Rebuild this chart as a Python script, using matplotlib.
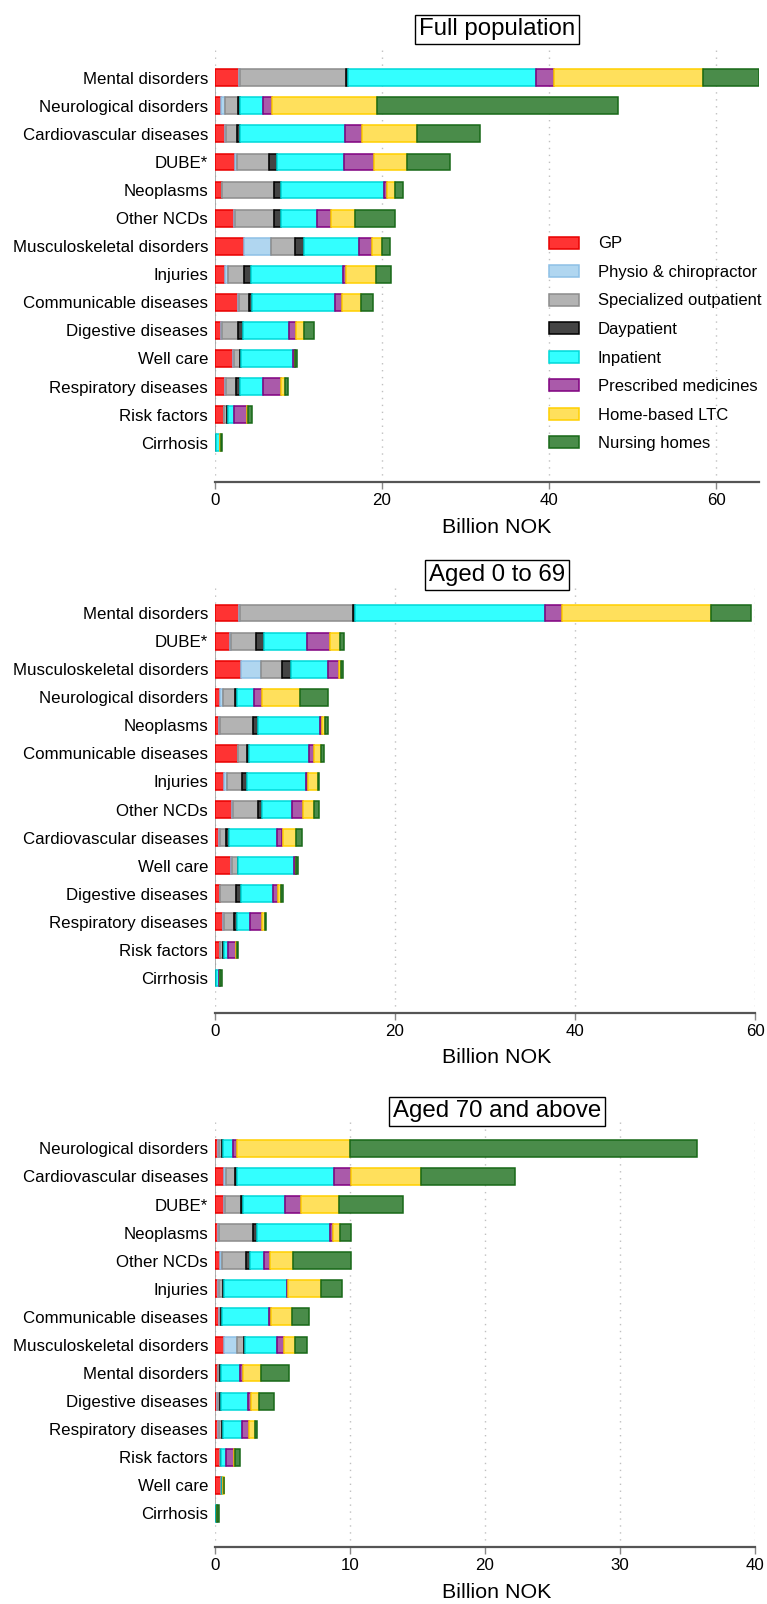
import matplotlib
matplotlib.use("Agg")
import matplotlib.pyplot as plt
import numpy as np

plt.rcParams['font.family'] = ['Liberation Sans', 'DejaVu Sans']

# ---- data (billion NOK) ----
services = ["GP", "Physio & chiropractor", "Specialized outpatient", "Daypatient",
            "Inpatient", "Prescribed medicines", "Home-based LTC", "Nursing homes"]

full_categories = ["Mental disorders", "Neurological disorders", "Cardiovascular diseases",
                   "DUBE*", "Neoplasms", "Other NCDs", "Musculoskeletal disorders",
                   "Injuries", "Communicable diseases", "Digestive diseases", "Well care",
                   "Respiratory diseases", "Risk factors", "Cirrhosis"]
full_values = [
    [2.9, 0.1, 12.7, 0.2, 22.6, 2.1, 17.9, 6.6],
    [0.75, 0.4, 1.65, 0.2, 2.7, 1.15, 12.5, 28.9],
    [1.15, 0.15, 1.3, 0.45, 12.5, 2.0, 6.6, 7.6],
    [2.45, 0.15, 3.9, 0.95, 7.95, 3.7, 3.85, 5.15],
    [0.8, 0.05, 6.25, 0.75, 12.4, 0.3, 1.0, 1.0],
    [2.3, 0.15, 4.6, 0.8, 4.4, 1.6, 2.95, 4.8],
    [3.5, 3.25, 2.85, 1.1, 6.5, 1.65, 1.1, 1.05],
    [1.25, 0.35, 1.9, 0.85, 10.95, 0.35, 3.65, 1.75],
    [2.8, 0.1, 1.2, 0.3, 10.0, 0.8, 2.3, 1.45],
    [0.7, 0.15, 1.85, 0.6, 5.6, 0.8, 1.0, 1.2],
    [2.2, 0.05, 0.75, 0.1, 6.25, 0.2, 0.05, 0.2],
    [1.15, 0.15, 1.25, 0.45, 2.75, 2.1, 0.55, 0.3],
    [1.05, 0.05, 0.3, 0.2, 0.7, 1.55, 0.15, 0.4],
    [0.05, 0.0, 0.05, 0.05, 0.45, 0.05, 0.05, 0.15],
]

young_categories = ["Mental disorders", "DUBE*", "Musculoskeletal disorders",
                    "Neurological disorders", "Neoplasms", "Communicable diseases",
                    "Injuries", "Other NCDs", "Cardiovascular diseases", "Well care",
                    "Digestive diseases", "Respiratory diseases", "Risk factors", "Cirrhosis"]
young_values = [
    [2.7, 0.1, 12.5, 0.2, 21.2, 1.8, 16.6, 4.5],
    [1.7, 0.1, 2.8, 0.8, 4.85, 2.55, 1.05, 0.45],
    [2.9, 2.25, 2.3, 1.0, 4.15, 1.15, 0.25, 0.25],
    [0.55, 0.3, 1.4, 0.15, 1.95, 0.9, 4.15, 3.15],
    [0.4, 0.1, 3.75, 0.5, 6.95, 0.15, 0.4, 0.3],
    [2.5, 0.1, 1.0, 0.2, 6.6, 0.6, 0.75, 0.35],
    [1.05, 0.3, 1.6, 0.65, 6.5, 0.2, 1.1, 0.2],
    [1.85, 0.1, 2.8, 0.5, 3.35, 1.2, 1.15, 0.65],
    [0.4, 0.1, 0.7, 0.3, 5.35, 0.65, 1.45, 0.7],
    [1.8, 0.05, 0.65, 0.1, 6.2, 0.2, 0.05, 0.15],
    [0.5, 0.1, 1.7, 0.55, 3.55, 0.65, 0.25, 0.2],
    [0.85, 0.1, 1.15, 0.3, 1.45, 1.4, 0.25, 0.2],
    [0.55, 0.05, 0.3, 0.15, 0.4, 0.9, 0.05, 0.2],
    [0.03, 0.0, 0.05, 0.05, 0.35, 0.05, 0.05, 0.15],
]

old_categories = ["Neurological disorders", "Cardiovascular diseases", "DUBE*", "Neoplasms",
                  "Other NCDs", "Injuries", "Communicable diseases",
                  "Musculoskeletal disorders", "Mental disorders", "Digestive diseases",
                  "Respiratory diseases", "Risk factors", "Well care", "Cirrhosis"]
old_values = [
    [0.2, 0.1, 0.25, 0.05, 0.75, 0.3, 8.35, 25.7],
    [0.7, 0.1, 0.65, 0.15, 7.2, 1.3, 5.15, 7.0],
    [0.7, 0.05, 1.2, 0.1, 3.15, 1.2, 2.75, 4.75],
    [0.25, 0.05, 2.55, 0.25, 5.45, 0.2, 0.5, 0.8],
    [0.4, 0.1, 1.8, 0.3, 1.05, 0.45, 1.7, 4.25],
    [0.2, 0.1, 0.3, 0.1, 4.6, 0.1, 2.45, 1.55],
    [0.3, 0.05, 0.1, 0.08, 3.5, 0.15, 1.5, 1.25],
    [0.65, 0.95, 0.55, 0.1, 2.35, 0.5, 0.8, 0.95],
    [0.2, 0.05, 0.15, 0.08, 1.4, 0.2, 1.35, 2.05],
    [0.15, 0.05, 0.2, 0.08, 2.0, 0.2, 0.6, 1.1],
    [0.25, 0.05, 0.2, 0.08, 1.4, 0.55, 0.4, 0.2],
    [0.35, 0.05, 0.05, 0.03, 0.3, 0.6, 0.1, 0.4],
    [0.45, 0.03, 0.03, 0.01, 0.05, 0.03, 0.03, 0.05],
    [0.02, 0.0, 0.05, 0.02, 0.05, 0.02, 0.02, 0.12],
]

panel_titles = ["Full population", "Aged 0 to 69", "Aged 70 and above"]
x_ticks = [[0, 20, 40, 60], [0, 20, 40, 60], [0, 10, 20, 30, 40]]

# ---- styling ----
fills = ["#FF3333", "#B0D6F0", "#B3B3B3", "#444444", "#33FFFF", "#AA5AAA", "#FFE05C", "#4A8C4A"]
edges = ["#E80000", "#8EC0E6", "#8C8C8C", "#000000", "#00D8D8", "#800080", "#FFD000", "#186818"]

W, H = 767, 1604
fig = plt.figure(figsize=(W / 100, H / 100), dpi=100)

LEFT = 215.0
ROW = 28.08
panels = [
    dict(cats=full_categories, vals=full_values, xmax=None, ppu=(716 - 215) / 60,
         c0=77.7, below=1.4, title_y=29.3, xlab_gap=45),
    dict(cats=young_categories, vals=young_values, xmax=60, ppu=(755 - 215) / 60,
         c0=613.0, below=1.25, title_y=575.0, xlab_gap=44),
    dict(cats=old_categories, vals=old_values, xmax=40, ppu=(755 - 215) / 40,
         c0=1148.4, below=1.2, title_y=1111.5, xlab_gap=45),
]

for k, p in enumerate(panels):
    vals = np.array(p["vals"])
    totals = vals.sum(axis=1)
    xmax = p["xmax"] if p["xmax"] is not None else totals.max()
    right = LEFT + xmax * p["ppu"]
    top = p["c0"] - 1.0 * ROW
    n = len(p["cats"])
    bottom = p["c0"] + (n - 1 + p["below"]) * ROW
    ax = fig.add_axes([LEFT / W, 1 - bottom / H, (right - LEFT) / W, (bottom - top) / H])

    y = np.arange(n)
    left = np.zeros(n)
    for j, name in enumerate(services):
        ax.barh(y, vals[:, j], left=left, height=0.6, color=fills[j],
                edgecolor=edges[j], linewidth=1.1, label=name, zorder=3)
        left += vals[:, j]

    ax.set_xlim(0, xmax)
    ax.set_ylim(n - 1 + p["below"], -1.0)
    ax.set_yticks(y)
    ax.set_yticklabels(p["cats"], fontsize=12.2)
    ax.tick_params(axis='y', length=0, pad=5)
    ax.set_xticks(x_ticks[k])
    ax.set_xticklabels([str(t) for t in x_ticks[k]], fontsize=12.2)
    ax.tick_params(axis='x', length=5, width=1, color="#888888", pad=3)

    for t in x_ticks[k]:
        ax.axvline(t, color="#C0C0C0", linewidth=1.0, linestyle=(0, (1, 4)), zorder=1)
    ax.plot([0, 0], [-0.32, n - 1 + 0.32], color="#A0A0A0", linewidth=1.2, zorder=2,
            solid_capstyle='butt')

    for s in ["top", "right", "left"]:
        ax.spines[s].set_visible(False)
    ax.spines["bottom"].set_color("#555555")
    ax.spines["bottom"].set_linewidth(1.6)

    x_center = 497 / W
    fig.text(x_center, 1 - p["title_y"] / H, panel_titles[k], fontsize=17.3,
             ha='center', va='center',
             bbox=dict(boxstyle='square,pad=0.15', fc='white', ec='black', lw=1.0))
    fig.text(x_center, 1 - (bottom + p["xlab_gap"]) / H, "Billion NOK", fontsize=15.4,
             ha='center', va='center')

    if k == 0:
        ax.legend(loc='upper left',
                  bbox_to_anchor=((548.5 - LEFT) / (right - LEFT),
                                  1 - (236.5 - top) / (bottom - top)),
                  frameon=False, fontsize=12.0, handlelength=1.85, handleheight=0.75,
                  handletextpad=1.1, labelspacing=0.81, borderaxespad=0, borderpad=0)

fig.savefig("out.png", dpi=100, facecolor="white")
